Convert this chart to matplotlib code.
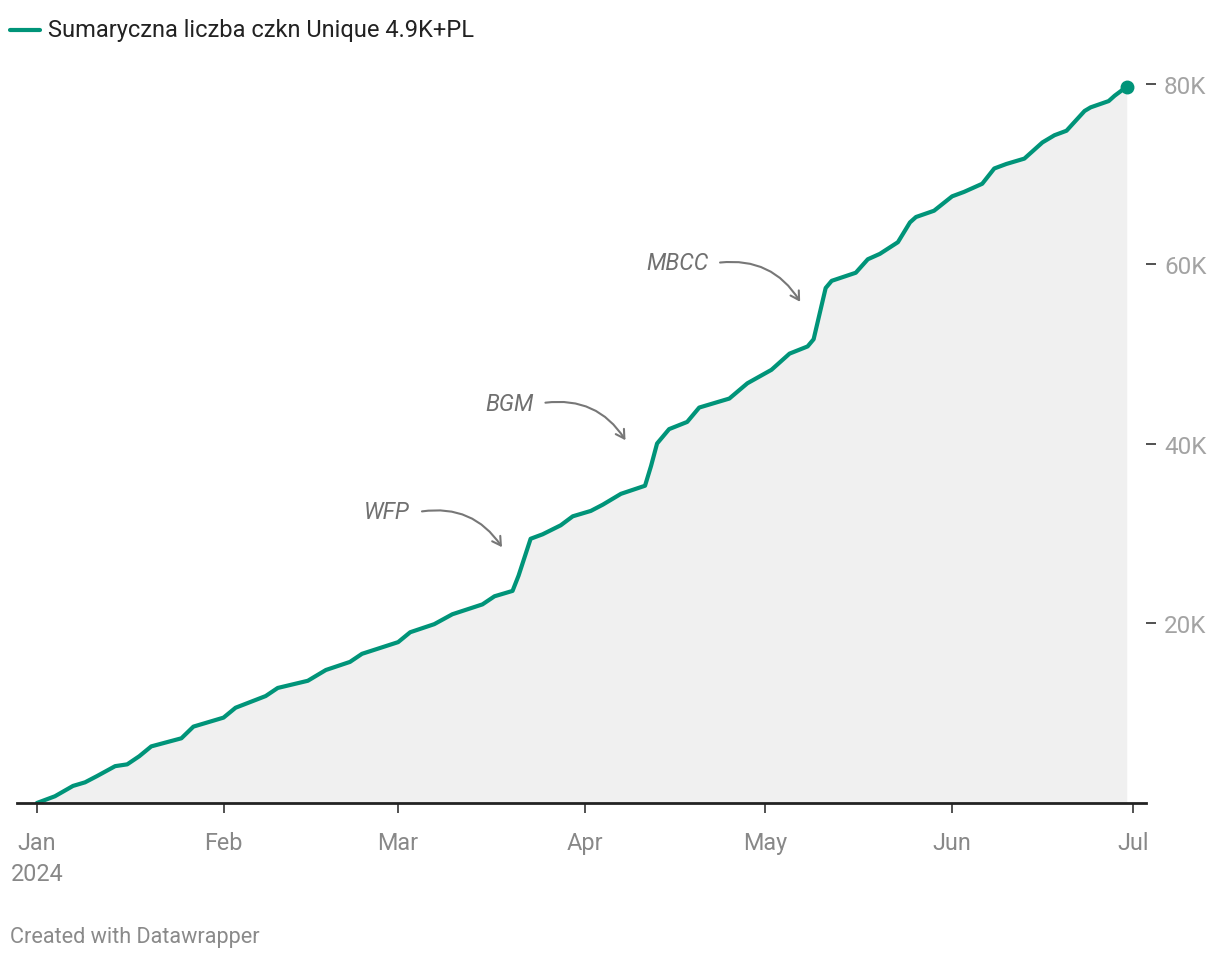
import matplotlib
matplotlib.use("Agg")
import matplotlib.pyplot as plt
from matplotlib.lines import Line2D
import pandas as pd

plt.rcParams['font.family'] = ['Roboto', 'DejaVu Sans']

# --- dane (wartości w tysiącach) ---
dates = [
    "2024-01-01", "2024-01-04", "2024-01-07", "2024-01-09", "2024-01-11",
    "2024-01-14", "2024-01-16", "2024-01-18", "2024-01-20", "2024-01-25",
    "2024-01-27", "2024-02-01", "2024-02-03", "2024-02-08", "2024-02-10",
    "2024-02-15", "2024-02-18", "2024-02-22", "2024-02-24", "2024-03-01",
    "2024-03-03", "2024-03-07", "2024-03-10", "2024-03-15", "2024-03-17",
    "2024-03-20", "2024-03-21", "2024-03-23", "2024-03-25", "2024-03-28",
    "2024-03-30", "2024-04-02", "2024-04-04", "2024-04-07", "2024-04-11",
    "2024-04-12", "2024-04-13", "2024-04-15", "2024-04-18", "2024-04-20",
    "2024-04-25", "2024-04-28", "2024-05-02", "2024-05-05", "2024-05-08",
    "2024-05-09", "2024-05-11", "2024-05-12", "2024-05-16", "2024-05-18",
    "2024-05-20", "2024-05-23", "2024-05-25", "2024-05-26", "2024-05-29",
    "2024-06-01", "2024-06-03", "2024-06-06", "2024-06-08", "2024-06-10",
    "2024-06-13", "2024-06-16", "2024-06-18", "2024-06-20", "2024-06-23",
    "2024-06-24", "2024-06-27", "2024-06-28", "2024-06-30",
]
values = [
    0.0, 0.75, 1.9, 2.3, 3.0,
    4.1, 4.3, 5.2, 6.3, 7.2,
    8.5, 9.5, 10.6, 11.9, 12.8,
    13.6, 14.8, 15.7, 16.6, 17.9,
    19.0, 19.9, 21.0, 22.1, 23.0,
    23.6, 25.3, 29.4, 29.9, 30.9,
    31.9, 32.5, 33.2, 34.4, 35.3,
    37.5, 40.0, 41.6, 42.4, 44.0,
    45.0, 46.7, 48.2, 50.0, 50.8,
    51.6, 57.3, 58.1, 59.0, 60.5,
    61.1, 62.4, 64.6, 65.2, 65.9,
    67.5, 68.0, 68.9, 70.6, 71.1,
    71.7, 73.5, 74.3, 74.8, 77.0,
    77.4, 78.1, 78.7, 79.7,
]
y_ticks = [20, 40, 60, 80]
y_tick_labels = ["20K", "40K", "60K", "80K"]
month_ticks = ["2024-01-01", "2024-02-01", "2024-03-01", "2024-04-01",
               "2024-05-01", "2024-06-01", "2024-07-01"]
month_labels = ["Jan\n2024", "Feb", "Mar", "Apr", "May", "Jun", "Jul"]

# adnotacje: etykieta, początek strzałki (data, wartość), grot (data, wartość)
notes = ["WFP", "BGM", "MBCC"]
note_text_pos = [("2024-03-04 12:00", 32.4), ("2024-03-25", 44.5), ("2024-04-23", 60.1)]
note_tip_pos = [("2024-03-18 12:00", 28.2), ("2024-04-08", 40.1), ("2024-05-07", 55.5)]

legend_label = "Sumaryczna liczba czkn Unique 4.9K+PL"

GREEN = "#009479"
FILL = "#f0f0f0"

x = pd.to_datetime(dates)

fig = plt.figure(figsize=(12.2, 9.62), dpi=100)
ax = fig.add_axes([17 / 1220, (962 - 804) / 962, (1146 - 17) / 1220, (804 - 85) / 962])

ax.fill_between(x, values, 0, color=FILL, lw=0, zorder=1)
ax.plot(x, values, color=GREEN, lw=3.0, solid_joinstyle="round",
        solid_capstyle="round", zorder=3)
ax.plot(x[-1:], values[-1:], "o", color=GREEN, ms=9, zorder=4, clip_on=False)

ax.set_xlim(pd.Timestamp("2024-01-01") - pd.Timedelta(days=3.3),
            pd.Timestamp("2024-01-01") + pd.Timedelta(days=184.2))
ax.set_ylim(0, 80)

for s in ["top", "left", "right"]:
    ax.spines[s].set_visible(False)
ax.spines["bottom"].set_color("#222222")
ax.spines["bottom"].set_linewidth(2.0)
ax.spines["bottom"].set_zorder(5)

ax.set_xticks(pd.to_datetime(month_ticks))
ax.set_xticklabels(month_labels, fontsize=16.8, color="#888888", linespacing=1.45)
ax.tick_params(axis="x", length=7, width=1.1, color="#222222", pad=13)
for lbl in ax.get_xticklabels():
    lbl.set_verticalalignment("top")
ax.get_xticklabels()[0].set_multialignment("center")

ax.yaxis.tick_right()
ax.set_yticks(y_ticks)
ax.set_yticklabels(y_tick_labels, fontsize=17.5, color="#a3a3a3")
ax.tick_params(axis="y", length=7, width=1.1, color="#222222", pad=6)

for label, tpos, apos in zip(notes, note_text_pos, note_tip_pos):
    tx = pd.Timestamp(tpos[0])
    ax.text(tx - pd.Timedelta(days=1.5), tpos[1], label, ha="right", va="center",
            fontsize=16.5, color="#707070", style="italic", zorder=6)
    ax.annotate("", xy=(pd.Timestamp(apos[0]), apos[1]), xytext=(tx, tpos[1]),
                arrowprops=dict(arrowstyle="->,head_length=0.6,head_width=0.35",
                                color="#777777", lw=1.5,
                                connectionstyle="arc3,rad=-0.33"),
                zorder=6)

# legenda
fig.add_artist(Line2D([10 / 1220, 40 / 1220], [1 - 31 / 962, 1 - 31 / 962],
                      color=GREEN, lw=3.0, solid_capstyle="round"))
fig.text(48 / 1220, 1 - 31 / 962, legend_label, fontsize=17, color="#222222",
         ha="left", va="center")

fig.text(10 / 1220, 1 - 938 / 962, "Created with Datawrapper", fontsize=15.6,
         color="#8a8a8a", ha="left", va="center")

fig.savefig("out.png", dpi=100)
